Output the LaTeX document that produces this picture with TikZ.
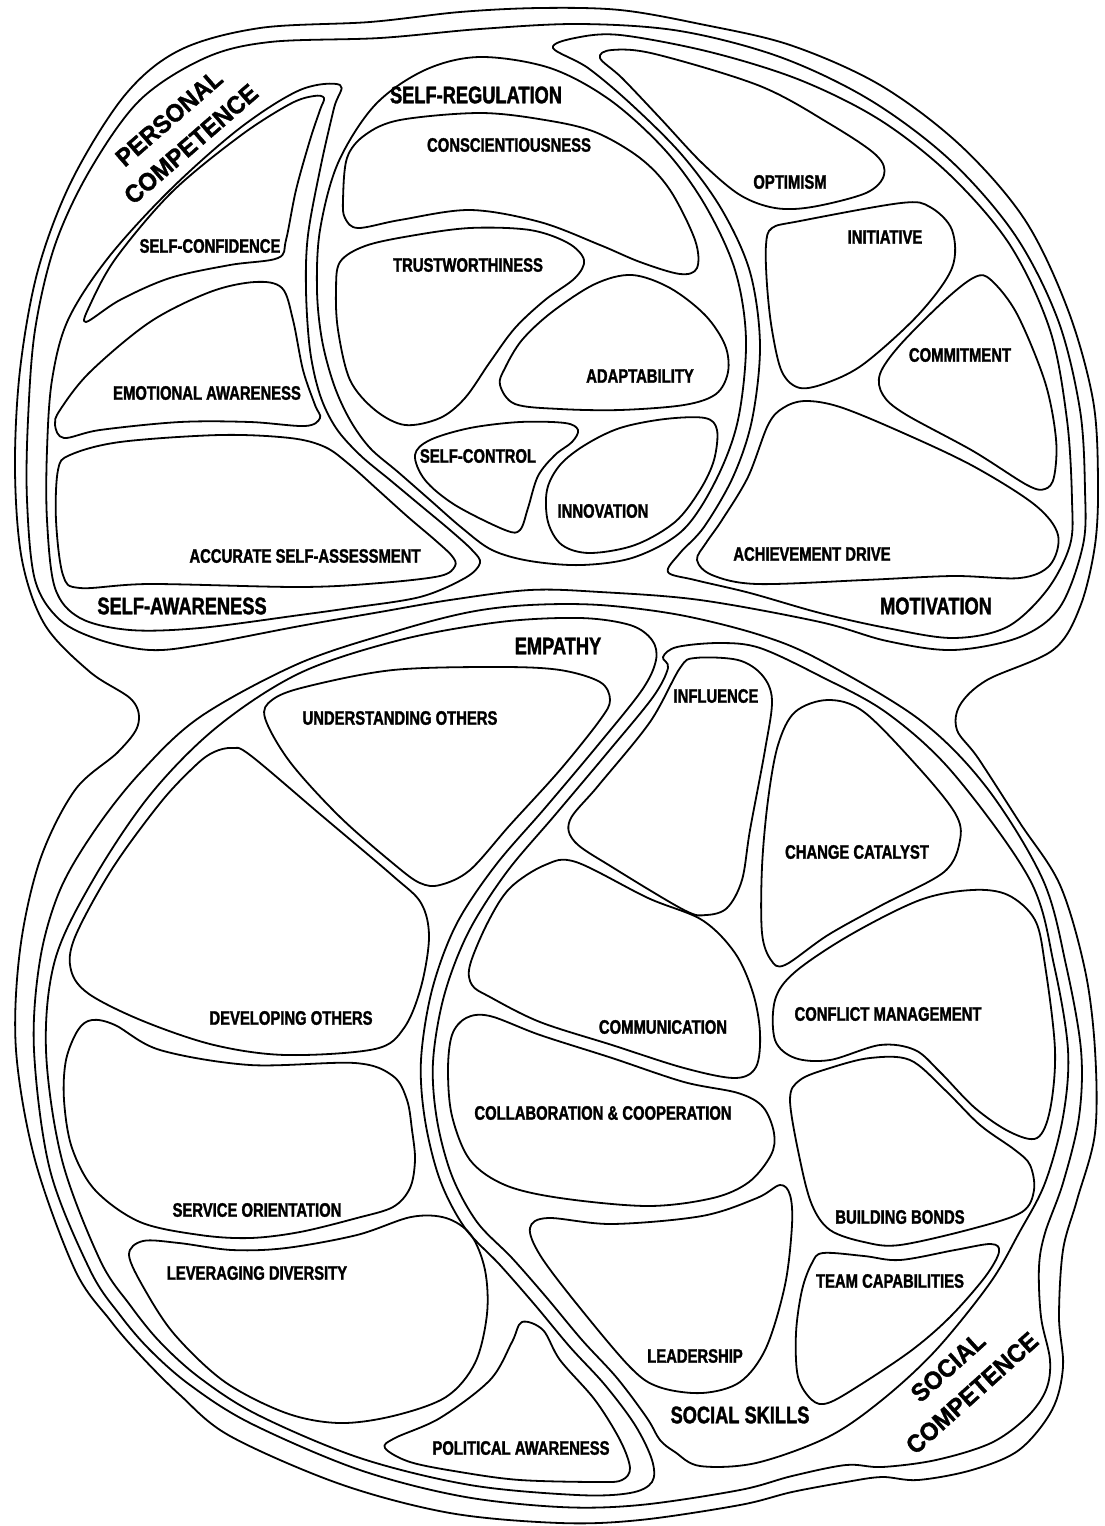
\documentclass[tikz,border=0pt]{standalone}
\usepackage{fontspec}
\newfontfamily\condfont{Liberation Sans}[FakeStretch=0.76, FakeBold=1.6]
\newfontfamily\widefont{Liberation Sans}[FakeStretch=0.95, FakeBold=1.4]
\begin{document}
\begin{tikzpicture}[x=1pt,y=-1pt,
  wall/.style={draw=black, line width=1.8pt, line join=round},
  leaflbl/.style={font=\condfont\bfseries\fontsize{19.5}{19.5}\selectfont, inner sep=0pt},
  grouplbl/.style={font=\condfont\bfseries\fontsize{24}{24}\selectfont, inner sep=0pt},
  comptxt/.style={font=\widefont\bfseries\fontsize{25}{25}\selectfont, inner sep=0pt}]
\useasboundingbox (0,0) rectangle (1105,1526);
\fill[white] (0,0) rectangle (1105,1526);

% ---------- outer contour ----------
\draw[wall] plot[smooth cycle, tension=0.55] coordinates {
 (125,95) (180,50) (260,28) (370,22) (460,12) (540,8) (620,10) (700,24) (790,45)
 (880,85) (960,145) (1025,220) (1068,310) (1093,400) (1098,480) (1095,545) (1080,607)
 (1053,650) (987,680) (960,705) (957,730) (978,758) (1020,823) (1060,885) (1085,970)
 (1095,1050) (1095,1133) (1077,1200) (1063,1250) (1059,1317) (1063,1367) (1052,1410)
 (1019,1450) (972,1470) (918,1480) (882,1477) (846,1482) (792,1492) (740,1505)
 (640,1520) (560,1523) (450,1513) (340,1484) (230,1436) (180,1395) (140,1355)
 (110,1320) (75,1270) (35,1160) (16,1050) (20,950) (40,860) (75,790) (118,752)
 (138,725) (132,700) (90,672) (45,625) (22,560) (15,470) (20,370) (38,270) (72,180)};

% ---------- personal competence ----------
\draw[wall] plot[smooth cycle, tension=0.55] coordinates {
 (140,100) (205,58) (270,42) (380,38) (480,29) (580,24) (680,31) (780,57) (870,100)
 (950,160) (1015,235) (1058,320) (1080,410) (1085,490) (1083,545) (1060,607)
 (1020,637) (953,650) (887,641) (820,622) (700,600) (600,592) (530,590) (450,600)
 (380,612) (300,626) (200,645) (150,650) (100,640) (60,620) (35,580) (27,500)
 (28,420) (35,330) (55,245) (90,170)};

% self-awareness group
\draw[wall] plot[smooth cycle, tension=0.55] coordinates {
 (340,85) (334,108) (321,165) (308,235) (306,290) (310,350) (320,395) (336,428)
 (360,455) (390,480) (420,505) (450,530) (472,550) (480,563) (465,578) (420,597)
 (350,608) (300,615) (200,628) (130,630) (80,618) (55,588) (47,520) (47,450)
 (52,380) (68,320) (108,258) (170,190) (240,128) (300,90)};
\draw[wall] plot[smooth cycle, tension=0.55] coordinates {
 (86,322) (120,300) (170,278) (230,265) (278,258) (286,240) (296,190) (310,140)
 (320,110) (324,98) (314,96) (290,104) (240,136) (172,192) (116,258) (90,305)};
\draw[wall] plot[smooth cycle, tension=0.55] coordinates {
 (60,410) (90,372) (150,322) (210,292) (255,282) (282,288) (293,320) (303,370)
 (315,405) (320,418) (305,426) (250,422) (180,422) (100,430) (64,438) (55,425)};
\draw[wall] plot[smooth cycle, tension=0.55] coordinates {
 (58,470) (70,455) (120,442) (220,435) (290,438) (325,447) (350,465) (378,490)
 (408,517) (435,540) (452,556) (455,566) (440,576) (380,583) (300,587) (150,584)
 (80,588) (63,575) (56,520)};

% self-regulation group
\draw[wall] plot[smooth cycle, tension=0.55] coordinates {
 (480,57) (550,68) (610,100) (665,150) (705,205) (735,270) (746,340) (738,420)
 (716,480) (683,530) (635,557) (582,565) (530,561) (492,550) (462,528) (430,500)
 (398,472) (370,448) (350,420) (334,385) (322,340) (317,290) (320,230) (338,163)
 (375,105) (425,70)};
\draw[wall] plot[smooth cycle, tension=0.55] coordinates {
 (343,200) (347,158) (365,135) (400,120) (480,113) (545,120) (595,132) (640,158)
 (670,190) (695,240) (697,268) (680,274) (640,262) (600,245) (540,222) (470,210)
 (400,220) (358,228) (345,218)};
\draw[wall] plot[smooth cycle, tension=0.55] coordinates {
 (340,262) (365,246) (410,236) (470,228) (530,230) (568,243) (584,260) (575,278)
 (545,300) (515,328) (490,362) (465,398) (440,418) (405,425) (375,410) (350,380)
 (338,330) (336,290)};
\draw[wall] plot[smooth cycle, tension=0.55] coordinates {
 (500,385) (505,368) (522,340) (552,312) (595,284) (632,275) (670,288) (705,315)
 (725,345) (728,372) (716,394) (684,405) (620,410) (560,409) (515,404)};
\draw[wall] plot[smooth cycle, tension=0.55] coordinates {
 (415,455) (430,440) (470,428) (520,422) (565,423) (578,430) (572,442) (555,455)
 (538,476) (528,508) (520,530) (505,530) (455,505) (425,480)};
\draw[wall] plot[smooth cycle, tension=0.55] coordinates {
 (560,465) (585,445) (620,428) (665,419) (705,418) (717,430) (714,460) (700,490)
 (675,522) (635,545) (590,553) (562,545) (548,522) (547,490)};

% motivation group
\draw[wall] plot[smooth cycle, tension=0.55] coordinates {
 (553,48) (575,38) (620,35) (710,52) (800,80) (880,120) (950,175) (1010,245)
 (1050,330) (1067,420) (1072,500) (1070,545) (1047,590) (1007,627) (953,638)
 (887,628) (820,613) (750,593) (695,580) (668,572) (680,553) (704,527) (733,477)
 (752,420) (760,345) (750,272) (722,210) (682,155) (632,105) (588,68)};
\draw[wall] plot[smooth cycle, tension=0.55] coordinates {
 (600,58) (612,50) (655,54) (760,86) (830,124) (876,155) (884,175) (866,193)
 (812,207) (775,208) (740,195) (702,163) (660,118) (622,78)};
\draw[wall] plot[smooth cycle, tension=0.55] coordinates {
 (766,245) (772,228) (800,221) (901,203) (930,207) (952,230) (952,268) (919,314)
 (865,363) (829,382) (800,388) (782,372) (772,330) (767,285)};
\draw[wall] plot[smooth cycle, tension=0.55] coordinates {
 (880,374) (900,345) (945,300) (975,277) (991,280) (1017,314) (1045,382)
 (1056,439) (1054,477) (1045,489) (1027,485) (973,451) (905,414) (883,395)};
\draw[wall] plot[smooth cycle, tension=0.55] coordinates {
 (697,560) (706,543) (722,520) (748,477) (768,425) (783,408) (805,401) (840,407)
 (901,432) (973,466) (1035,505) (1058,535) (1050,565) (1020,578) (953,576)
 (865,580) (757,584) (712,575)};

% ---------- social competence ----------
\draw[wall] plot[smooth cycle, tension=0.55] coordinates {
 (95,830) (140,773) (200,717) (300,663) (400,630) (470,612) (530,605) (600,605)
 (680,615) (760,635) (820,660) (920,720) (987,788) (1043,880) (1066,965)
 (1081,1050) (1079,1117) (1063,1183) (1045,1233) (1039,1267) (1041,1317)
 (1050,1360) (1046,1390) (1027,1417) (991,1443) (936,1460) (882,1467) (846,1465)
 (792,1476) (740,1490) (640,1505) (560,1507) (460,1496) (357,1469) (250,1423)
 (190,1385) (150,1350) (120,1315) (90,1270) (50,1170) (34,1050) (40,960) (60,890)};

% empathy group
\draw[wall] plot[smooth cycle, tension=0.55] coordinates {
 (93,880) (150,795) (217,727) (300,673) (400,640) (500,622) (580,618) (630,625)
 (652,640) (656,660) (642,690) (598,745) (545,808) (495,866) (456,925) (432,990)
 (421,1060) (425,1120) (440,1180) (465,1228) (500,1265) (535,1305) (570,1347)
 (605,1385) (635,1425) (652,1460) (652,1482) (630,1493) (577,1495) (470,1485)
 (360,1458) (258,1415) (200,1378) (160,1342) (130,1305) (100,1260) (62,1160)
 (46,1050) (55,960)};
\draw[wall] plot[smooth cycle, tension=0.55] coordinates {
 (265,718) (272,700) (305,687) (393,670) (500,667) (560,670) (600,682) (610,700)
 (600,720) (560,770) (510,825) (470,870) (440,885) (420,883) (395,865) (340,817)
 (290,762)};
\draw[wall] plot[smooth cycle, tension=0.55] coordinates {
 (214,752) (232,748) (250,755) (321,815) (393,876) (421,903) (429,937) (421,987)
 (404,1028) (375,1049) (286,1055) (214,1045) (143,1021) (89,994) (71,970) (75,937)
 (112,869) (161,802) (196,765)};
\draw[wall] plot[smooth cycle, tension=0.55] coordinates {
 (66,1060) (78,1030) (92,1020) (115,1025) (160,1050) (250,1065) (355,1063)
 (393,1076) (407,1100) (412,1130) (415,1160) (410,1188) (393,1207) (357,1218)
 (300,1232) (250,1238) (200,1235) (140,1222) (95,1190) (72,1148) (64,1100)};
\draw[wall] plot[smooth cycle, tension=0.55] coordinates {
 (129,1255) (143,1241) (179,1243) (232,1250) (286,1248) (357,1235) (411,1217)
 (446,1218) (471,1235) (485,1270) (487,1314) (475,1363) (446,1397) (393,1416)
 (339,1423) (286,1413) (225,1382) (175,1335) (145,1290)};
\draw[wall] plot[smooth cycle, tension=0.55] coordinates {
 (385,1448) (395,1438) (440,1418) (490,1380) (512,1342) (522,1322) (543,1330)
 (560,1360) (595,1400) (620,1440) (630,1468) (622,1480) (600,1482) (520,1480)
 (460,1472) (410,1462)};

% social skills group
\draw[wall] plot[smooth cycle, tension=0.55] coordinates {
 (663,657) (677,647) (720,643) (760,648) (820,676) (887,713) (953,773) (1030,880)
 (1054,965) (1068,1050) (1063,1117) (1045,1183) (1019,1233) (990,1283) (936,1350)
 (882,1400) (828,1437) (756,1463) (700,1466) (675,1452) (660,1440) (647,1418)
 (617,1378) (582,1340) (547,1298) (512,1258) (477,1222) (452,1176) (437,1120)
 (433,1062) (444,996) (468,933) (506,873) (555,815) (608,752) (653,697) (668,668)};
\draw[wall] plot[smooth cycle, tension=0.55] coordinates {
 (680,668) (695,658) (738,660) (762,675) (772,700) (765,750) (750,830) (742,880)
 (727,908) (706,915) (684,910) (612,867) (575,842) (570,820) (598,786) (650,722)};
\draw[wall] plot[smooth cycle, tension=0.55] coordinates {
 (778,745) (795,712) (828,700) (864,712) (918,767) (955,813) (960,840) (944,872)
 (882,905) (828,935) (785,965) (771,960) (762,933) (762,867) (768,800)};
\draw[wall] plot[smooth cycle, tension=0.55] coordinates {
 (470,965) (488,922) (510,888) (545,865) (576,862) (648,898) (702,920) (735,953)
 (753,993) (760,1033) (756,1067) (735,1078) (684,1068) (612,1045) (540,1022)
 (490,997) (472,985)};
\draw[wall] plot[smooth cycle, tension=0.55] coordinates {
 (775,1000) (795,972) (850,935) (920,900) (972,890) (1008,895) (1035,920)
 (1045,965) (1055,1050) (1050,1110) (1037,1138) (1010,1132) (975,1108) (940,1072)
 (915,1050) (880,1045) (830,1060) (795,1058) (775,1040)};
\draw[wall] plot[smooth cycle, tension=0.55] coordinates {
 (452,1035) (466,1018) (490,1016) (540,1035) (612,1058) (684,1082) (738,1093)
 (763,1107) (774,1133) (771,1155) (749,1182) (713,1198) (648,1206) (560,1198)
 (505,1185) (470,1160) (452,1116) (448,1070)};
\draw[wall] plot[smooth cycle, tension=0.55] coordinates {
 (790,1100) (800,1080) (830,1068) (870,1058) (910,1060) (945,1090) (980,1125)
 (1015,1150) (1030,1165) (1034,1190) (1022,1212) (975,1228) (900,1245) (864,1242)
 (830,1230) (812,1205) (800,1160)};
\draw[wall] plot[smooth cycle, tension=0.55] coordinates {
 (812,1263) (823,1253) (864,1256) (900,1260) (955,1250) (991,1244) (999,1252)
 (985,1277) (950,1317) (912,1350) (860,1385) (828,1403) (812,1400) (798,1377)
 (796,1333) (802,1290)};
\draw[wall] plot[smooth cycle, tension=0.55] coordinates {
 (530,1228) (548,1218) (612,1224) (702,1216) (757,1198) (780,1185) (790,1195)
 (792,1225) (785,1285) (766,1348) (740,1382) (702,1393) (659,1387) (630,1367)
 (576,1303) (540,1255)};

% ---------- labels ----------
\node[comptxt, rotate=41] (pcomp1) at (169,118) {PERSONAL};
\node[comptxt, rotate=41] (pcomp2) at (191,144) {COMPETENCE};
\node[comptxt, rotate=42] (scomp1) at (948,1367) {SOCIAL};
\node[comptxt, rotate=42] (scomp2) at (972,1393) {COMPETENCE};

\node[grouplbl] (gsr) at (476,95) {SELF-REGULATION};
\node[grouplbl] (gsa) at (182,606) {SELF-AWARENESS};
\node[grouplbl] (gmo) at (936,606) {MOTIVATION};
\node[grouplbl] (gem) at (558,646) {EMPATHY};
\node[grouplbl] (gss) at (740,1415) {SOCIAL SKILLS};

\node[leaflbl] (consc) at (509,145) {CONSCIENTIOUSNESS};
\node[leaflbl] (optim) at (790,182) {OPTIMISM};
\node[leaflbl] (initi) at (885,237) {INITIATIVE};
\node[leaflbl] (sconf) at (210,246) {SELF-CONFIDENCE};
\node[leaflbl] (trust) at (468,265) {TRUSTWORTHINESS};
\node[leaflbl] (commit) at (960,355) {COMMITMENT};
\node[leaflbl] (adapt) at (640,376) {ADAPTABILITY};
\node[leaflbl] (emaw) at (207,393) {EMOTIONAL AWARENESS};
\node[leaflbl] (sctrl) at (478,456) {SELF-CONTROL};
\node[leaflbl] (innov) at (603,511) {INNOVATION};
\node[leaflbl] (accur) at (305,556) {ACCURATE SELF-ASSESSMENT};
\node[leaflbl] (achiev) at (812,554) {ACHIEVEMENT DRIVE};
\node[leaflbl] (influ) at (716,696) {INFLUENCE};
\node[leaflbl] (under) at (400,718) {UNDERSTANDING OTHERS};
\node[leaflbl] (change) at (857,852) {CHANGE CATALYST};
\node[leaflbl] (devel) at (291,1018) {DEVELOPING OTHERS};
\node[leaflbl] (confl) at (888,1014) {CONFLICT MANAGEMENT};
\node[leaflbl] (commu) at (663,1027) {COMMUNICATION};
\node[leaflbl] (collab) at (603,1113) {COLLABORATION \& COOPERATION};
\node[leaflbl] (servi) at (257,1210) {SERVICE ORIENTATION};
\node[leaflbl] (bonds) at (900,1217) {BUILDING BONDS};
\node[leaflbl] (lever) at (257,1273) {LEVERAGING DIVERSITY};
\node[leaflbl] (team) at (890,1281) {TEAM CAPABILITIES};
\node[leaflbl] (lead) at (695,1356) {LEADERSHIP};
\node[leaflbl] (polit) at (521,1448) {POLITICAL AWARENESS};
\end{tikzpicture}
\end{document}
